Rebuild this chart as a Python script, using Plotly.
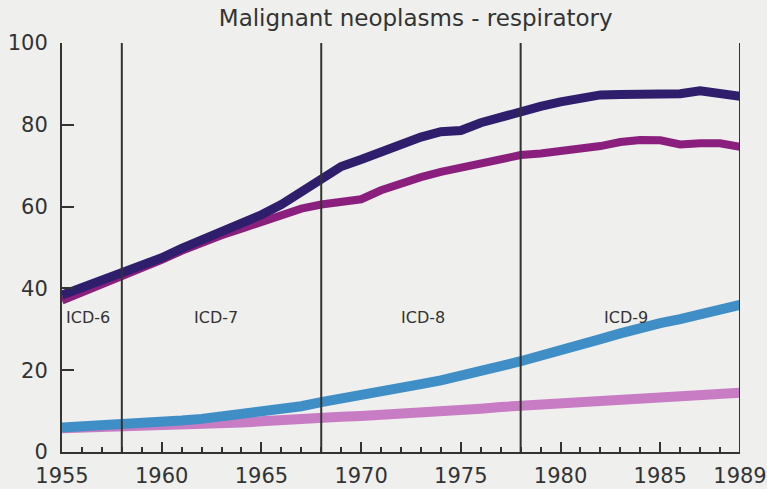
import plotly.graph_objects as go

years = list(range(1955, 1990))

navy = [38.4, 40.2, 42.0, 43.6, 45.5, 47.5, 49.8, 51.8, 53.6, 55.6, 58.0, 60.5, 63.5, 67.0,
        69.8, 71.5, 73.5, 75.5, 77.0, 78.3, 78.6, 80.5, 82.0, 83.5, 84.5, 85.6, 86.5, 87.3,
        87.4, 87.5, 87.5, 87.6, 88.3, 87.8, 87.0]
purple = [37.0, 39.0, 41.0, 42.6, 45.0, 47.0, 49.2, 51.2, 53.0, 54.6, 56.3, 58.0, 59.5, 60.5,
          61.3, 61.8, 64.0, 65.8, 67.2, 68.5, 69.5, 70.5, 71.8, 72.6, 73.0, 73.5, 74.0, 74.8,
          75.8, 76.3, 76.2, 75.2, 75.5, 75.5, 74.6]
blue = [6.0, 6.2, 6.5, 6.8, 7.0, 7.3, 7.7, 8.1, 8.6, 9.1, 9.7, 10.3, 11.2, 12.2, 13.2, 14.0,
        14.8, 15.7, 16.6, 17.5, 18.5, 19.7, 21.0, 22.2, 23.4, 24.8, 26.2, 27.6, 29.0, 30.4,
        31.5, 32.5, 33.6, 34.8, 36.0]
pink = [5.8, 5.9, 6.0, 6.1, 6.2, 6.4, 6.6, 6.8, 7.0, 7.2, 7.5, 7.9, 8.2, 8.4, 8.6, 8.8, 9.0,
        9.3, 9.6, 9.9, 10.2, 10.6, 11.0, 11.3, 11.6, 11.9, 12.3, 12.7, 13.1, 13.4, 13.7, 13.9,
        14.1, 14.3, 14.5]

x_tickvals = [1955, 1960, 1965, 1970, 1975, 1980, 1985, 1989]
y_tickvals = [0, 20, 40, 60, 80, 100]
icd_breaks = [1958, 1968, 1978, 1989]
icd_labels = ["ICD-6", "ICD-7", "ICD-8", "ICD-9"]
icd_label_x = [1956.3, 1962.7, 1973.1, 1983.3]
icd_label_y = 33

BG = "#efefed"
INK = "#333333"
FONT = "'DejaVu Sans', sans-serif"

fig = go.Figure()
for vals, color, w in [(pink, "#c87cc4", 10), (blue, "#3f8fc6", 10),
                       (purple, "#8a1f7d", 8), (navy, "#2f1e6c", 9)]:
    fig.add_trace(go.Scatter(x=years, y=vals, mode="lines",
                             line=dict(color=color, width=w), showlegend=False,
                             hoverinfo="skip"))

for b in icd_breaks:
    fig.add_shape(type="line", xref="x", yref="y", x0=b, x1=b, y0=0, y1=100,
                  line=dict(color=INK, width=2))

for lx, lt in zip(icd_label_x, icd_labels):
    fig.add_annotation(x=lx, y=icd_label_y, text=lt, showarrow=False,
                       font=dict(size=16, color=INK, family=FONT))

fig.update_layout(
    width=767, height=489,
    paper_bgcolor=BG, plot_bgcolor=BG,
    margin=dict(l=62, r=27, t=43, b=37),
    title=dict(text="Malignant neoplasms - respiratory", x=0.542, xanchor="center",
               y=0.963, yanchor="middle",
               font=dict(size=23, color=INK, family=FONT)),
    font=dict(family=FONT, color=INK),
)
fig.update_xaxes(range=[1955, 1989], tickvals=x_tickvals, ticks="inside", ticklen=10,
                 tickwidth=2, tickcolor=INK, showline=True, linecolor=INK, linewidth=2,
                 showgrid=False, zeroline=False, tickfont=dict(size=21, color=INK),
                 ticklabelstandoff=4, automargin=False,
                 minor=dict(dtick=1, tick0=1955, ticks="inside", ticklen=5, tickwidth=2,
                            tickcolor=INK, showgrid=False))
fig.update_yaxes(range=[0, 100], tickvals=y_tickvals, ticks="inside", ticklen=12,
                 tickwidth=2, tickcolor=INK, showline=True, linecolor=INK, linewidth=2,
                 showgrid=False, zeroline=False, tickfont=dict(size=21, color=INK),
                 ticklabelstandoff=8, automargin=False)

fig.write_html(
    "out.html",
    config={"displayModeBar": False},
    post_script="document.body.style.margin='0';document.body.style.background='%s';" % BG,
)
